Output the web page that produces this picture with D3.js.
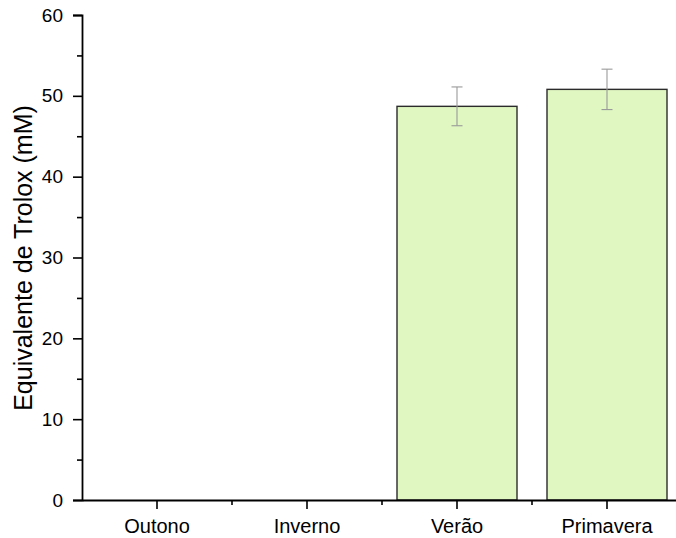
<!DOCTYPE html>
<html>
<head>
<meta charset="utf-8">
<script src="https://cdn.jsdelivr.net/npm/d3@7"></script>
<style>
  html, body { margin: 0; padding: 0; background: #fff; }
  svg { display: block; font-family: "Liberation Sans", Arial, sans-serif; }
</style>
</head>
<body>
<svg id="chart" width="676" height="538"></svg>
<script>
// Seasons and measured antioxidant capacity (Trolox equivalents, mM)
const seasons = ["Outono", "Inverno", "Verão", "Primavera"];
const troloxMean = [null, null, 48.7, 50.8];
const troloxErr = [null, null, 2.4, 2.5];
const yTicks = [0, 10, 20, 30, 40, 50, 60];
const yMinorTicks = [5, 15, 25, 35, 45, 55];
const yTitle = "Equivalente de Trolox (mM)";

const data = seasons.map((s, i) => ({ season: s, mean: troloxMean[i], err: troloxErr[i] }));

const svg = d3.select("#chart");
const plotLeft = 82, plotRight = 682, plotTop = 15, plotBottom = 500;

const y = d3.scaleLinear().domain([0, 60]).range([plotBottom, plotTop]);
const x = d3.scaleBand().domain(seasons).range([plotLeft, plotRight]).paddingInner(0).paddingOuter(0);
const barW = x.bandwidth() * 0.8;
const cx = s => x(s) + x.bandwidth() / 2;

// Bars
const bars = data.filter(d => d.mean != null);
svg.append("g").selectAll("rect").data(bars).join("rect")
  .attr("x", d => cx(d.season) - barW / 2)
  .attr("y", d => y(d.mean))
  .attr("width", barW)
  .attr("height", d => y(0) - y(d.mean))
  .attr("fill", "#e0f7c1")
  .attr("stroke", "#2b2b2b")
  .attr("stroke-width", 1.4);

// Error bars
const eb = svg.append("g").attr("stroke", "#9a9a9a").attr("stroke-width", 1.1).attr("fill", "none");
bars.forEach(d => {
  const c = cx(d.season);
  eb.append("line").attr("x1", c).attr("x2", c).attr("y1", y(d.mean + d.err)).attr("y2", y(d.mean - d.err));
  [d.mean + d.err, d.mean - d.err].forEach(v => {
    eb.append("line").attr("x1", c - 5.5).attr("x2", c + 5.5).attr("y1", y(v)).attr("y2", y(v));
  });
});

// Y axis
const yAxisG = svg.append("g").attr("transform", `translate(${plotLeft},0)`)
  .call(d3.axisLeft(y).tickValues(yTicks).tickSize(9).tickPadding(10).tickFormat(d3.format("d")));
yAxisG.selectAll(".tick text").attr("font-size", 19);
svg.append("g").attr("transform", `translate(${plotLeft},0)`)
  .call(d3.axisLeft(y).tickValues(yMinorTicks).tickSize(5).tickFormat(""))
  .call(g => g.select(".domain").remove());

// X axis
const xAxisG = svg.append("g").attr("transform", `translate(0,${plotBottom})`)
  .call(d3.axisBottom(x).tickSize(9).tickPadding(10).tickSizeOuter(0));
xAxisG.selectAll(".tick text").attr("font-size", 20);
const xMinor = seasons.slice(1).map(s => x(s));
svg.append("g").attr("transform", `translate(0,${plotBottom})`)
  .selectAll("line").data(xMinor).join("line")
  .attr("x1", d => d).attr("x2", d => d).attr("y1", 0).attr("y2", 5)
  .attr("stroke", "#000").attr("stroke-width", 1.6);

svg.selectAll(".domain").attr("stroke", "#000").attr("stroke-width", 1.8);
svg.selectAll(".tick line").attr("stroke", "#000").attr("stroke-width", 1.6);
svg.selectAll(".tick text").attr("fill", "#000")
  .attr("font-family", "'Liberation Sans', Arial, sans-serif");

// Y title
svg.append("text")
  .attr("transform", `translate(32,258) rotate(-90)`)
  .attr("text-anchor", "middle")
  .attr("font-size", 25)
  .attr("fill", "#000")
  .text(yTitle);
</script>
</body>
</html>
